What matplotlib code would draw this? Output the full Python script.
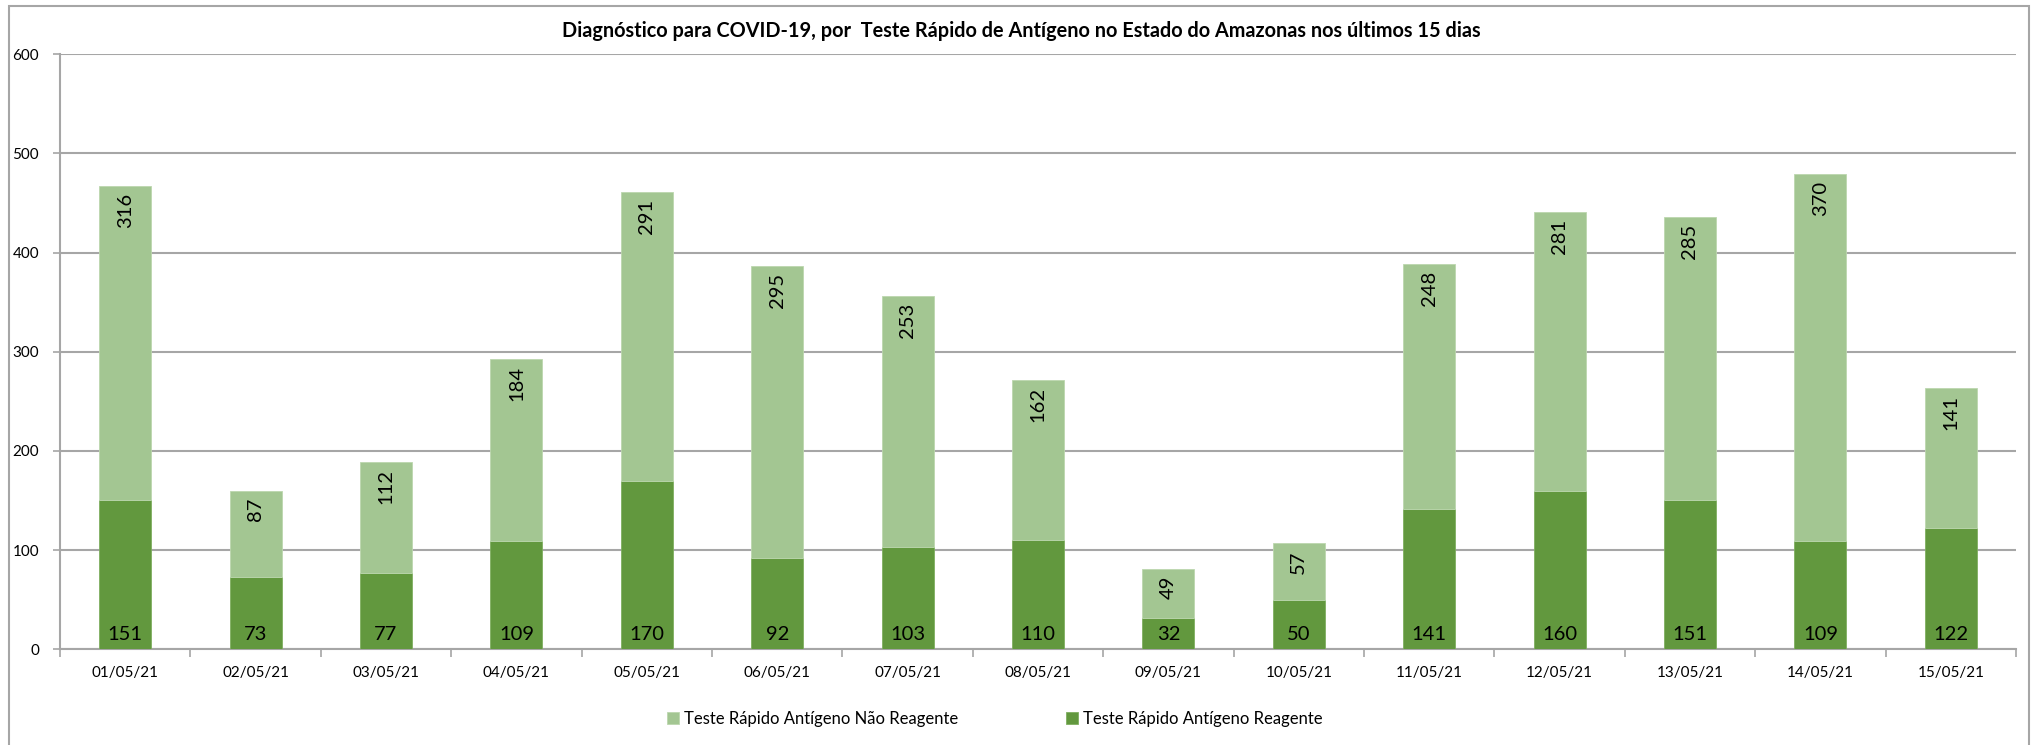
import numpy as np
import matplotlib
matplotlib.use("Agg")
import matplotlib.pyplot as plt
from matplotlib.patches import Rectangle

# data
dates = ["01/05/21", "02/05/21", "03/05/21", "04/05/21", "05/05/21",
         "06/05/21", "07/05/21", "08/05/21", "09/05/21", "10/05/21",
         "11/05/21", "12/05/21", "13/05/21", "14/05/21", "15/05/21"]
reagente = [151, 73, 77, 109, 170, 92, 103, 110, 32, 50, 141, 160, 151, 109, 122]
nao_reagente = [316, 87, 112, 184, 291, 295, 253, 162, 49, 57, 248, 281, 285, 370, 141]

title = "Diagnóstico para COVID-19, por  Teste Rápido de Antígeno no Estado do Amazonas nos últimos 15 dias"
label_nao = "Teste Rápido Antígeno Não Reagente"
label_rea = "Teste Rápido Antígeno Reagente"

dark = "#62983E"
light = "#A3C692"
grid_c = "#A6A6A6"

plt.rcParams["font.family"] = ["Lato", "DejaVu Sans"]

fig = plt.figure(figsize=(20.32, 7.45), dpi=100)
ax = fig.add_axes([60 / 2032, 1 - 649.3 / 745, (2016 - 60) / 2032, (649.3 - 54.3) / 745])

x = np.arange(len(dates))
w = 0.4
b1 = ax.bar(x, reagente, w, color=dark, edgecolor="#7FAF60", linewidth=0.6,
            label=label_rea, zorder=3)
b2 = ax.bar(x, nao_reagente, w, bottom=reagente, color=light, edgecolor="#BCD7AE",
            linewidth=0.6, label=label_nao, zorder=3)

# value labels
for xi, r, n in zip(x, reagente, nao_reagente):
    ax.annotate(str(r), (xi, 0), xytext=(0, 4.5), textcoords="offset points",
                ha="center", va="bottom", fontsize=14.5, color="black", zorder=4)
    ax.annotate(str(n), (xi, r + n), xytext=(0, -5), textcoords="offset points",
                ha="center", va="top", rotation=90, fontsize=14.5, color="black", zorder=4)

ax.set_xlim(-0.5, len(dates) - 0.5)
ax.set_ylim(0, 600)
ax.set_yticks(range(0, 601, 100))
ax.yaxis.grid(True, color=grid_c, linewidth=1.5, zorder=0)
ax.set_axisbelow(True)

ax.set_xticks(x)
ax.set_xticklabels(dates, fontsize=11)
ax.tick_params(axis="x", length=0, pad=12)
ax.set_xticks(np.arange(-0.5, len(dates)), minor=True)
ax.tick_params(axis="x", which="minor", length=6, color=grid_c, width=1.2)
ax.tick_params(axis="y", length=5, color=grid_c, width=1.2, labelsize=11, pad=10)

for s in ["top", "right"]:
    ax.spines[s].set_visible(False)
for s in ["left", "bottom"]:
    ax.spines[s].set_color(grid_c)
    ax.spines[s].set_linewidth(1.5)

fig.text(1021 / 2032, 1 - 31 / 745, title, ha="center", va="center",
         fontsize=14.3, fontweight="bold")

handles = [b2, b1]
fig.legend(handles, [label_nao, label_rea], loc="center", ncol=2,
           bbox_to_anchor=(995 / 2032, 1 - 719 / 745), frameon=False,
           fontsize=12, handlelength=0.7, handleheight=0.7, handletextpad=0.3,
           columnspacing=6.5)

# outer chart border
fig.patches.append(Rectangle((9 / 2032, -0.05), (2029 - 9) / 2032, 1.05 - 5.7 / 745,
                             transform=fig.transFigure, fill=False,
                             edgecolor=grid_c, linewidth=1.5))

fig.savefig("out.png", dpi=100)
